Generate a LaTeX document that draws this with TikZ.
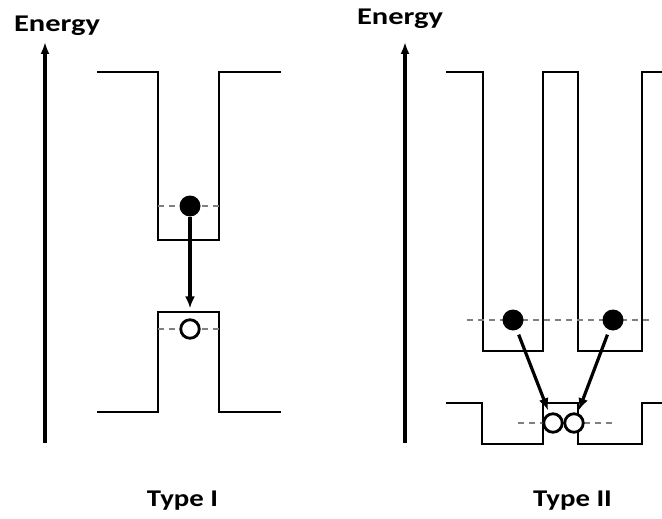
\documentclass[tikz,border=0pt]{standalone}
\usepackage{fontspec}
\setmainfont{Carlito}
\usetikzlibrary{arrows.meta}
\tikzset{
  band/.style={line width=2pt},
  level/.style={gray, dash pattern=on 6pt off 5pt, line width=1.5pt},
  elec/.style={circle, fill=black, minimum size=21pt, inner sep=0pt},
  hole/.style={circle, draw=black, line width=2.8pt, fill=white, minimum size=18.5pt, inner sep=0pt},
  jump/.style={-{Latex[length=12pt,width=10pt]}, line width=3.2pt},
  axis/.style={-{Latex[length=12pt,width=9pt]}, line width=3.2pt},
  lbl/.style={font=\bfseries\fontsize{24}{26}\selectfont, anchor=base}
}
\begin{document}
\begin{tikzpicture}[x=1pt, y=-1pt]
        \useasboundingbox (0,0) rectangle (662,519);

        % 能量轴
        \coordinate (a1) at (45,443);
        \coordinate (a1t) at (45,42);
        \coordinate (a2) at (405,443);
        \coordinate (a2t) at (405,42);
        \draw[axis] (a1) -- (a1t);
        \draw[axis] (a2) -- (a2t);
        \node[lbl] (en1) at (57,31.7) {\scalebox{1.27}[1]{Energy}};
        \node[lbl] (en2) at (400,25) {\scalebox{1.27}[1]{Energy}};

        % 第一类：导带与价带
        \draw[band] (97,72) -- (158,72) -- (158,240) -- (219,240) -- (219,72) -- (281,72);
        \draw[band] (97,412) -- (158,412) -- (158,312) -- (219,312) -- (219,412) -- (281,412);
        \draw[level] (158,206) -- (219,206);
        \draw[level] (158,329) -- (219,329);

        % 第一类：电子与空穴
        \node[elec] (e1) at (190,206) {};
        \node[hole] (h1) at (190,329) {};
        \draw[jump, shorten >=10pt] (e1) -- (h1);
        \node[lbl] (t1) at (182.5,506) {\scalebox{1.2}[1]{Type I}};

        % 第二类：导带与价带
        \draw[band] (446,72) -- (483,72) -- (483,351) -- (543,351) -- (543,72) -- (578,72)
            -- (578,351) -- (642,351) -- (642,72) -- (662,72);
        \draw[band] (446,403) -- (482,403) -- (482,444) -- (543,444) -- (543,403) -- (578,403)
            -- (578,444) -- (642,444) -- (642,403) -- (662,403);
        \draw[level] (467,320) -- (652,320);
        \draw[level] (518,423) -- (612,423);

        % 第二类：电子与空穴
        \node[elec] (e2) at (513,320) {};
        \node[elec] (e3) at (613,320) {};
        \node[hole] (h2) at (553,423) {};
        \node[hole] (h3) at (574,423) {};
        \draw[jump, shorten <=5pt, shorten >=3pt] (e2) -- (h2);
        \draw[jump, shorten <=5pt, shorten >=3pt] (e3) -- (h3);
        \node[lbl] (t2) at (572.5,506) {\scalebox{1.2}[1]{Type II}};
    \end{tikzpicture}
\end{document}
